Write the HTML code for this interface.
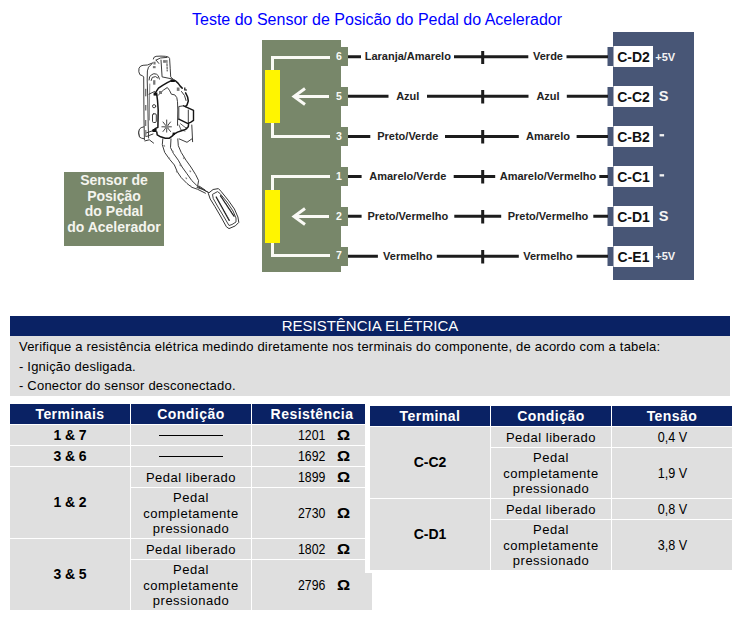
<!DOCTYPE html>
<html><head><meta charset="utf-8">
<style>
*{margin:0;padding:0;box-sizing:border-box}
html,body{width:739px;height:619px;background:#fff;overflow:hidden}
body{position:relative;font-family:"Liberation Sans",sans-serif;color:#000}
.a{position:absolute}
#title{left:192px;top:11px;font-size:16px;line-height:18px;color:#0000ff;white-space:nowrap}
svg{position:absolute;left:0;top:0}
.hdr{left:10px;top:316px;width:720px;height:20px;background:#0a2264;color:#fff;font-size:15px;line-height:20px;text-align:center}
.info{left:10px;top:336px;width:720px;height:60px;background:#dfdfdf;font-size:13px;letter-spacing:0.21px}
.info div{position:absolute;left:9px;white-space:nowrap;line-height:15px}
.c{position:absolute;background:#dfdfdf;display:flex;align-items:center;justify-content:center;text-align:center;font-size:13px;line-height:15.5px;letter-spacing:0.5px;padding-top:2px}
.h{background:#0a2264;color:#fff;font-weight:bold;font-size:14px;letter-spacing:0.45px;padding-top:2px}
.b{font-weight:bold;font-size:14px;letter-spacing:-0.05px}
.t{padding-top:0}
.v{display:inline-block;font-size:14px;letter-spacing:0;transform:scaleX(0.9)}
.dash{width:64px;height:1px;background:#000;position:relative;top:-1px}
.n{position:absolute;font-size:14px;white-space:nowrap;transform:scaleX(0.88);transform-origin:0 0}
.o{position:absolute;font-size:14px;font-weight:bold;transform:scaleX(1.17);transform-origin:0 0}
</style></head><body>
<div id="title" class="a">Teste do Sensor de Posicão do Pedal do Acelerador</div>

<svg width="739" height="300" viewBox="0 0 739 300">
  <!-- pedal drawing -->
  <g id="pedal" fill="none" stroke="#3c3c3c" stroke-width="1" stroke-linejoin="round" stroke-linecap="round">
    <!-- top block -->
    <path d="M153.4 59L153.9 57.4L156.1 56.3L161 56.1L165.3 56.3L168.6 57.1L169.6 58.5L170.2 68.2L170.7 76.9L172.9 79.1"/>
    <path d="M156.1 60.1L160.4 58L166.9 57.4M156.1 60.1L158.8 63.4"/>
    <path d="M161 60.1L162.1 76.9L172.9 79.1"/>
    <path d="M166.9 60.5L167.2 71" stroke-dasharray="2 1.2"/>
    <!-- left lobe and bracket -->
    <path d="M152.9 62.8L147.4 65L143.1 65.3Q140.4 65.3 139 68.2Q138.2 72 139.9 74.7L142.6 75.8L143.7 77L143.8 95L144 120L144.4 139.8"/>
    <path d="M151.8 63.9L148.5 67.2L147.4 70.9L147.2 80L147.8 100L148.2 125L148.6 138"/>
    <path d="M149.8 84L149.5 100L149.4 120" stroke-width="0.6"/>
    <path d="M149.1 80L149.6 76.9Q151 74.4 153.9 73.7Q157 73.7 158.3 75.8L159.4 79.1"/>
    <path d="M151.2 80.5L152.3 77.4L155.6 76.6L157.7 78"/>
    <path d="M149 94.2L154.5 91.5"/>
    <circle cx="154.1" cy="106.2" r="1.6"/>
    <rect x="152.5" y="113.8" width="3.8" height="8.7" rx="1.2"/>
    <path d="M143.8 126.8Q140.5 127.5 139.5 129Q137.5 133 139.5 137.1Q141.5 138.6 143.8 138.7"/>
    <path d="M144.9 140.9L149.3 139.8L153.6 143.1M146 133L152 131M146.5 136.5L153 134"/>
    <path d="M138.5 131L139.5 136" stroke-width="0.6"/>
    <!-- housing inner -->
    <path d="M158.5 94.9L163.3 90.2L167.3 87.5L169.4 90.2L171.4 94.2L174.8 94.9L176.8 97.6L177.5 101.7L177.8 110L177.5 125.3"/>
    <path d="M181.5 91.5L184.5 95.5L186 100.5"/>
    <!-- connector box -->
    <path d="M178.8 119.2L178.8 106.5L183.7 105.8"/>
    <path d="M188.3 110L188.3 122"/>
    <path d="M180.5 123.7L184 126.5L187 128.5M179 125L181 130L185 131" stroke-width="0.8"/>
    <!-- right lower -->
    <path d="M191.8 125L192.2 133L192.6 141.7M179.2 138.9L187 142.3L191.8 138.9"/>
    <!-- arm -->
    <path d="M162.8 138.9L162.3 144.7L164.7 152.4L169.5 159.2L174.4 165L177.3 171.8L181.2 177.6L187 183.5L191.8 187.3L197.6 189.3L205.4 193.2"/>
    <path d="M171 138.9L170.5 147.6L173.4 153.4L178.3 160.2L182.1 167L187 173.8L191.8 180.6L196.7 185.4L200 188"/>
    <path d="M177.8 138.9L178.3 145.7L181.2 152.4L186 160.2L190.9 167L195.7 174.7L198.6 180.6L197.6 186.4L207.5 192"/>
    <path d="M164 145.5l0.6 0.6M172.5 151l0.6 0.6M169 158l0.6 0.6M183.5 158l0.6 0.6M180 165l0.6 0.6M176.5 171.5l0.6 0.6M190 171l0.6 0.6M186 178l0.6 0.6M190.5 186l0.6 0.6" stroke="#888" stroke-width="1.3"/>
    
    <!-- pad -->
    <path d="M208.6 193.1L213.1 189.5L218.4 188.6L221 191.3L228.2 200.2L234.4 209L237.9 217L238.8 222.4L235.3 225.9L229 228.6L226.4 226.8L221 217L214.8 206.4L210.4 199.3Z" stroke="#333"/>
    <path d="M212.8 194.2L217.5 191.6L220 193.5L227 202L233 211L236 218L236 222L232 224.5L229 225.5L224 217L218 207L213.5 199Z" stroke="#444"/>
    <path d="M216.2 197L229.3 220.5" stroke-dasharray="1.5 0.8" stroke="#222" stroke-width="1.3"/>
    <path d="M220.5 195.8L234.2 216.5" stroke-dasharray="1.5 0.8" stroke="#222" stroke-width="1.3"/>
    <path d="M197 187.5L203 189.5L208.6 192.5M199 186L205 190" stroke="#333" stroke-width="1"/>
    <!-- thick housing outline -->
    <g stroke="#151515" stroke-width="1.5">
      <path d="M154.5 94.2L158.5 88.1L162.6 85.4L167.3 82.7L171.4 80.7L175.4 80.7L178.2 83.4L180.2 86.1L182.2 88.1"/>
      <path d="M185.6 92.9L187.6 97L188.3 101L187 105L185.6 106.4"/>
      <path d="M156.8 94.9L157.5 100.3L158.2 110L157.9 127.3L155.1 128.7L152.8 130.7"/>
      <path d="M156.8 132.1L157.2 134.8L160.6 136.8L165.3 138.2L169.4 138.2L172.1 136.1L174.1 134.1L177.5 132.1L181.5 130.7L185.6 129.4L188.3 126.7L188.6 123.3"/>
      <path d="M183.7 105.8L193.5 110.3L193.5 120.4L190.5 122.3L187.5 123.3L178.8 119.2" stroke-width="1.4"/>
    </g>
    <g fill="#111" stroke="none">
      <rect x="153.6" y="92.6" width="3.8" height="3"/>
      <rect x="170.7" y="79.4" width="4.1" height="2.6"/>
      <rect x="152.6" y="129" width="4" height="3"/>
      <rect x="172.6" y="132.6" width="2.4" height="2.4"/>
      <path d="M184.2 87.5h1.2v2h1.6v1h-2.8z"/>
    </g>
    <g fill="#777" stroke="none">
      <rect x="176.8" y="87.5" width="2.7" height="3.4"/>
      <rect x="163.1" y="60.1" width="2.8" height="2.7"/>
      <rect x="153.4" y="61.7" width="2.2" height="2.8"/>
      <rect x="152.9" y="66.1" width="2.7" height="2.1"/>
      <rect x="145" y="88.8" width="1.4" height="7.5"/>
      <rect x="145" y="105" width="1.4" height="5.5"/>
      <rect x="159" y="91" width="3" height="3"/>
      <rect x="153.1" y="80.2" width="2.3" height="4.5"/>
      <rect x="145" y="120" width="1.3" height="6"/>
      <rect x="145.2" y="130" width="1.2" height="7"/>
    </g>
    <g stroke="#444" stroke-width="1">
      <path d="M163 122L170.5 131.5M170.5 122L163 131.5M161.9 126.8H171.4M166.7 120V132.1"/>
      <circle cx="166.7" cy="126.8" r="2.2" fill="#888" stroke="none"/>
    </g>
  </g>
  <!-- label box -->
  <rect x="64" y="172" width="100" height="74" fill="#78876a"/>
  <g fill="#f4f4ee" font-family="Liberation Sans" font-weight="bold" font-size="14" text-anchor="middle">
    <text x="114" y="185.3">Sensor de</text>
    <text x="114" y="200.6">Posição</text>
    <text x="114" y="216.2">do Pedal</text>
    <text x="114" y="232">do Acelerador</text>
  </g>

  <!-- green connector -->
  <rect x="262" y="40" width="79" height="232" fill="#78876a"/>
  <g fill="#78876a">
    <rect x="340" y="47" width="8" height="19"/>
    <rect x="340" y="87" width="8" height="19"/>
    <rect x="340" y="127" width="8" height="19"/>
    <rect x="340" y="167" width="8" height="19"/>
    <rect x="340" y="207" width="8" height="19"/>
    <rect x="340" y="247" width="8" height="19"/>
  </g>
  <g fill="none" stroke="#fafaf5" stroke-width="3">
    <path d="M330 57.5H272.5V136.5H330"/>
    <path d="M330 176.5H272.5V255.5H330"/>
    <path d="M329 96.5H294M305 88.5L294 96.5L305 104.5"/>
    <path d="M329 216.5H294M305 208.5L294 216.5L305 224.5"/>
  </g>
  <rect x="265" y="70" width="15" height="53" fill="#fff500"/>
  <rect x="265" y="190" width="15" height="53" fill="#fff500"/>
  <g fill="#fafaf5" font-family="Liberation Sans" font-weight="bold" font-size="10.5" text-anchor="middle">
    <text x="339" y="59.7">6</text>
    <text x="339" y="99.7">5</text>
    <text x="339" y="139.7">3</text>
    <text x="339" y="179.7">1</text>
    <text x="339" y="219.5">2</text>
    <text x="339" y="259.3">7</text>
  </g>

  <!-- navy connector -->
  <rect x="613" y="32" width="81" height="248" fill="#485676"/>
  <g fill="#485676">
    <rect x="607.5" y="47" width="6" height="19"/>
    <rect x="607.5" y="87" width="6" height="19"/>
    <rect x="607.5" y="127" width="6" height="19"/>
    <rect x="607.5" y="167" width="6" height="19"/>
    <rect x="607.5" y="207" width="6" height="19"/>
    <rect x="607.5" y="247" width="6" height="19"/>
  </g>
  <g fill="#fff">
    <rect x="613.5" y="46" width="39.5" height="21"/>
    <rect x="613.5" y="86" width="39.5" height="21"/>
    <rect x="613.5" y="126" width="39.5" height="21"/>
    <rect x="613.5" y="166" width="39.5" height="21"/>
    <rect x="613.5" y="206" width="39.5" height="21"/>
    <rect x="613.5" y="246" width="39.5" height="21"/>
  </g>
  <g fill="#111" font-family="Liberation Sans" font-weight="bold" font-size="14" text-anchor="middle">
    <text x="633.5" y="61.7">C-D2</text>
    <text x="633.5" y="101.7">C-C2</text>
    <text x="633.5" y="141.9">C-B2</text>
    <text x="633.5" y="181.9">C-C1</text>
    <text x="633.5" y="221.7">C-D1</text>
    <text x="633.5" y="261.5">C-E1</text>
  </g>
  <g fill="#f4f4f4" font-family="Liberation Sans" font-weight="bold">
    <text x="655.3" y="60.6" font-size="11">+5V</text>
    <text x="658.8" y="101.3" font-size="14.6">S</text>
    <rect x="659.6" y="134.1" width="4.5" height="2.3"/>
    <rect x="659.6" y="174.2" width="4.5" height="2.3"/>
    <text x="658.8" y="221.3" font-size="14.6">S</text>
    <text x="655.3" y="260.2" font-size="11">+5V</text>
  </g>

  <!-- wires -->
  <g fill="none" stroke="#1c1c1c" stroke-width="3">
    <path d="M348 56.8H361M454 56.8H528.3M566.5 56.8H608M482.7 51V64"/>
    <path d="M348 96.3H388.5M427 96.3H528.5M566.8 96.3H608M482.7 90V103.5"/>
    <path d="M348 136.5H370.3M445 136.5H518.8M576.6 136.5H608M482.7 130V143.5"/>
    <path d="M348 176.5H361.6M453.7 176.5H495.2M599.3 176.5H608M482.7 170V183.5"/>
    <path d="M348 216.3H361.6M454.3 216.3H501.2M593.3 216.3H608M482.7 210V223.5"/>
    <path d="M348 256.3H377.9M436.8 256.3H518.8M576.6 256.3H608M482.7 250V263.5"/>
  </g>
  <g fill="#232323" font-family="Liberation Sans" font-weight="bold" font-size="11" text-anchor="middle">
    <text x="407.8" y="59.8">Laranja/Amarelo</text>
    <text x="407.8" y="99.5">Azul</text>
    <text x="407.8" y="139.7">Preto/Verde</text>
    <text x="407.8" y="179.7">Amarelo/Verde</text>
    <text x="407.8" y="219.5">Preto/Vermelho</text>
    <text x="407.8" y="259.5">Vermelho</text>
    <text x="548" y="59.8">Verde</text>
    <text x="548" y="99.5">Azul</text>
    <text x="548" y="139.7">Amarelo</text>
    <text x="548" y="179.7">Amarelo/Vermelho</text>
    <text x="548" y="219.5">Preto/Vermelho</text>
    <text x="548" y="259.5">Vermelho</text>
  </g>
</svg>

<div class="a hdr">RESISTÊNCIA ELÉTRICA</div>
<div class="a info">
  <div style="top:3px">Verifique a resistência elétrica medindo diretamente nos terminais do componente, de acordo com a tabela:</div>
  <div style="top:22.5px">- Ignição desligada.</div>
  <div style="top:42px">- Conector do sensor desconectado.</div>
</div>

<!-- left table -->
<div class="c h" style="left:10px;top:404px;width:120px;height:20px">Terminais</div>
<div class="c h" style="left:131px;top:404px;width:120px;height:20px">Condição</div>
<div class="c h" style="left:252px;top:404px;width:120px;height:20px">Resistência</div>

<div class="c b" style="left:10px;top:425px;width:120px;height:20px">1 &amp; 7</div>
<div class="c" style="left:131px;top:425px;width:120px;height:20px"><div class="dash"></div></div>
<div class="c" style="left:252px;top:425px;width:120px;height:20px"></div>

<div class="c b" style="left:10px;top:446px;width:120px;height:20px">3 &amp; 6</div>
<div class="c" style="left:131px;top:446px;width:120px;height:20px"><div class="dash"></div></div>
<div class="c" style="left:252px;top:446px;width:120px;height:20px"></div>

<div class="c b t" style="left:10px;top:467px;width:120px;height:71px">1 &amp; 2</div>
<div class="c" style="left:131px;top:467px;width:120px;height:20px">Pedal liberado</div>
<div class="c" style="left:252px;top:467px;width:120px;height:20px"></div>
<div class="c" style="left:131px;top:488px;width:120px;height:50px;padding-top:1px">Pedal<br>completamente<br>pressionado</div>
<div class="c" style="left:252px;top:488px;width:120px;height:50px"></div>

<div class="c b t" style="left:10px;top:539px;width:120px;height:71px">3 &amp; 5</div>
<div class="c" style="left:131px;top:539px;width:120px;height:20px">Pedal liberado</div>
<div class="c" style="left:252px;top:539px;width:120px;height:20px"></div>
<div class="c" style="left:131px;top:560px;width:120px;height:50px;padding-top:1px">Pedal<br>completamente<br>pressionado</div>
<div class="c" style="left:252px;top:560px;width:120px;height:50px"></div>

<div class="n" style="left:297.5px;top:427px">1201</div><div class="o" style="left:337px;top:427px">Ω</div>
<div class="n" style="left:297.5px;top:448px">1692</div><div class="o" style="left:337px;top:448px">Ω</div>
<div class="n" style="left:297.5px;top:469px">1899</div><div class="o" style="left:337px;top:469px">Ω</div>
<div class="n" style="left:297.5px;top:505px">2730</div><div class="o" style="left:337px;top:505px">Ω</div>
<div class="n" style="left:297.5px;top:541px">1802</div><div class="o" style="left:337px;top:541px">Ω</div>
<div class="n" style="left:297.5px;top:577px">2796</div><div class="o" style="left:337px;top:577px">Ω</div>

<!-- right table -->
<div class="a" style="left:365px;top:400px;width:372px;height:173px;background:#fff"></div>
<div class="c h" style="left:370px;top:406px;width:120px;height:20px">Terminal</div>
<div class="c h" style="left:491px;top:406px;width:120px;height:20px">Condição</div>
<div class="c h" style="left:612px;top:406px;width:120px;height:20px">Tensão</div>

<div class="c b t" style="left:370px;top:427px;width:120px;height:71px">C-C2</div>
<div class="c" style="left:491px;top:427px;width:120px;height:20px">Pedal liberado</div>
<div class="c" style="left:612px;top:427px;width:120px;height:20px"><span class="v">0,4 V</span></div>
<div class="c" style="left:491px;top:448px;width:120px;height:50px;padding-top:1px">Pedal<br>completamente<br>pressionado</div>
<div class="c" style="left:612px;top:448px;width:120px;height:50px"><span class="v">1,9 V</span></div>

<div class="c b t" style="left:370px;top:499px;width:120px;height:71px">C-D1</div>
<div class="c" style="left:491px;top:499px;width:120px;height:20px">Pedal liberado</div>
<div class="c" style="left:612px;top:499px;width:120px;height:20px"><span class="v">0,8 V</span></div>
<div class="c" style="left:491px;top:520px;width:120px;height:50px;padding-top:1px">Pedal<br>completamente<br>pressionado</div>
<div class="c" style="left:612px;top:520px;width:120px;height:50px"><span class="v">3,8 V</span></div>
</body></html>
